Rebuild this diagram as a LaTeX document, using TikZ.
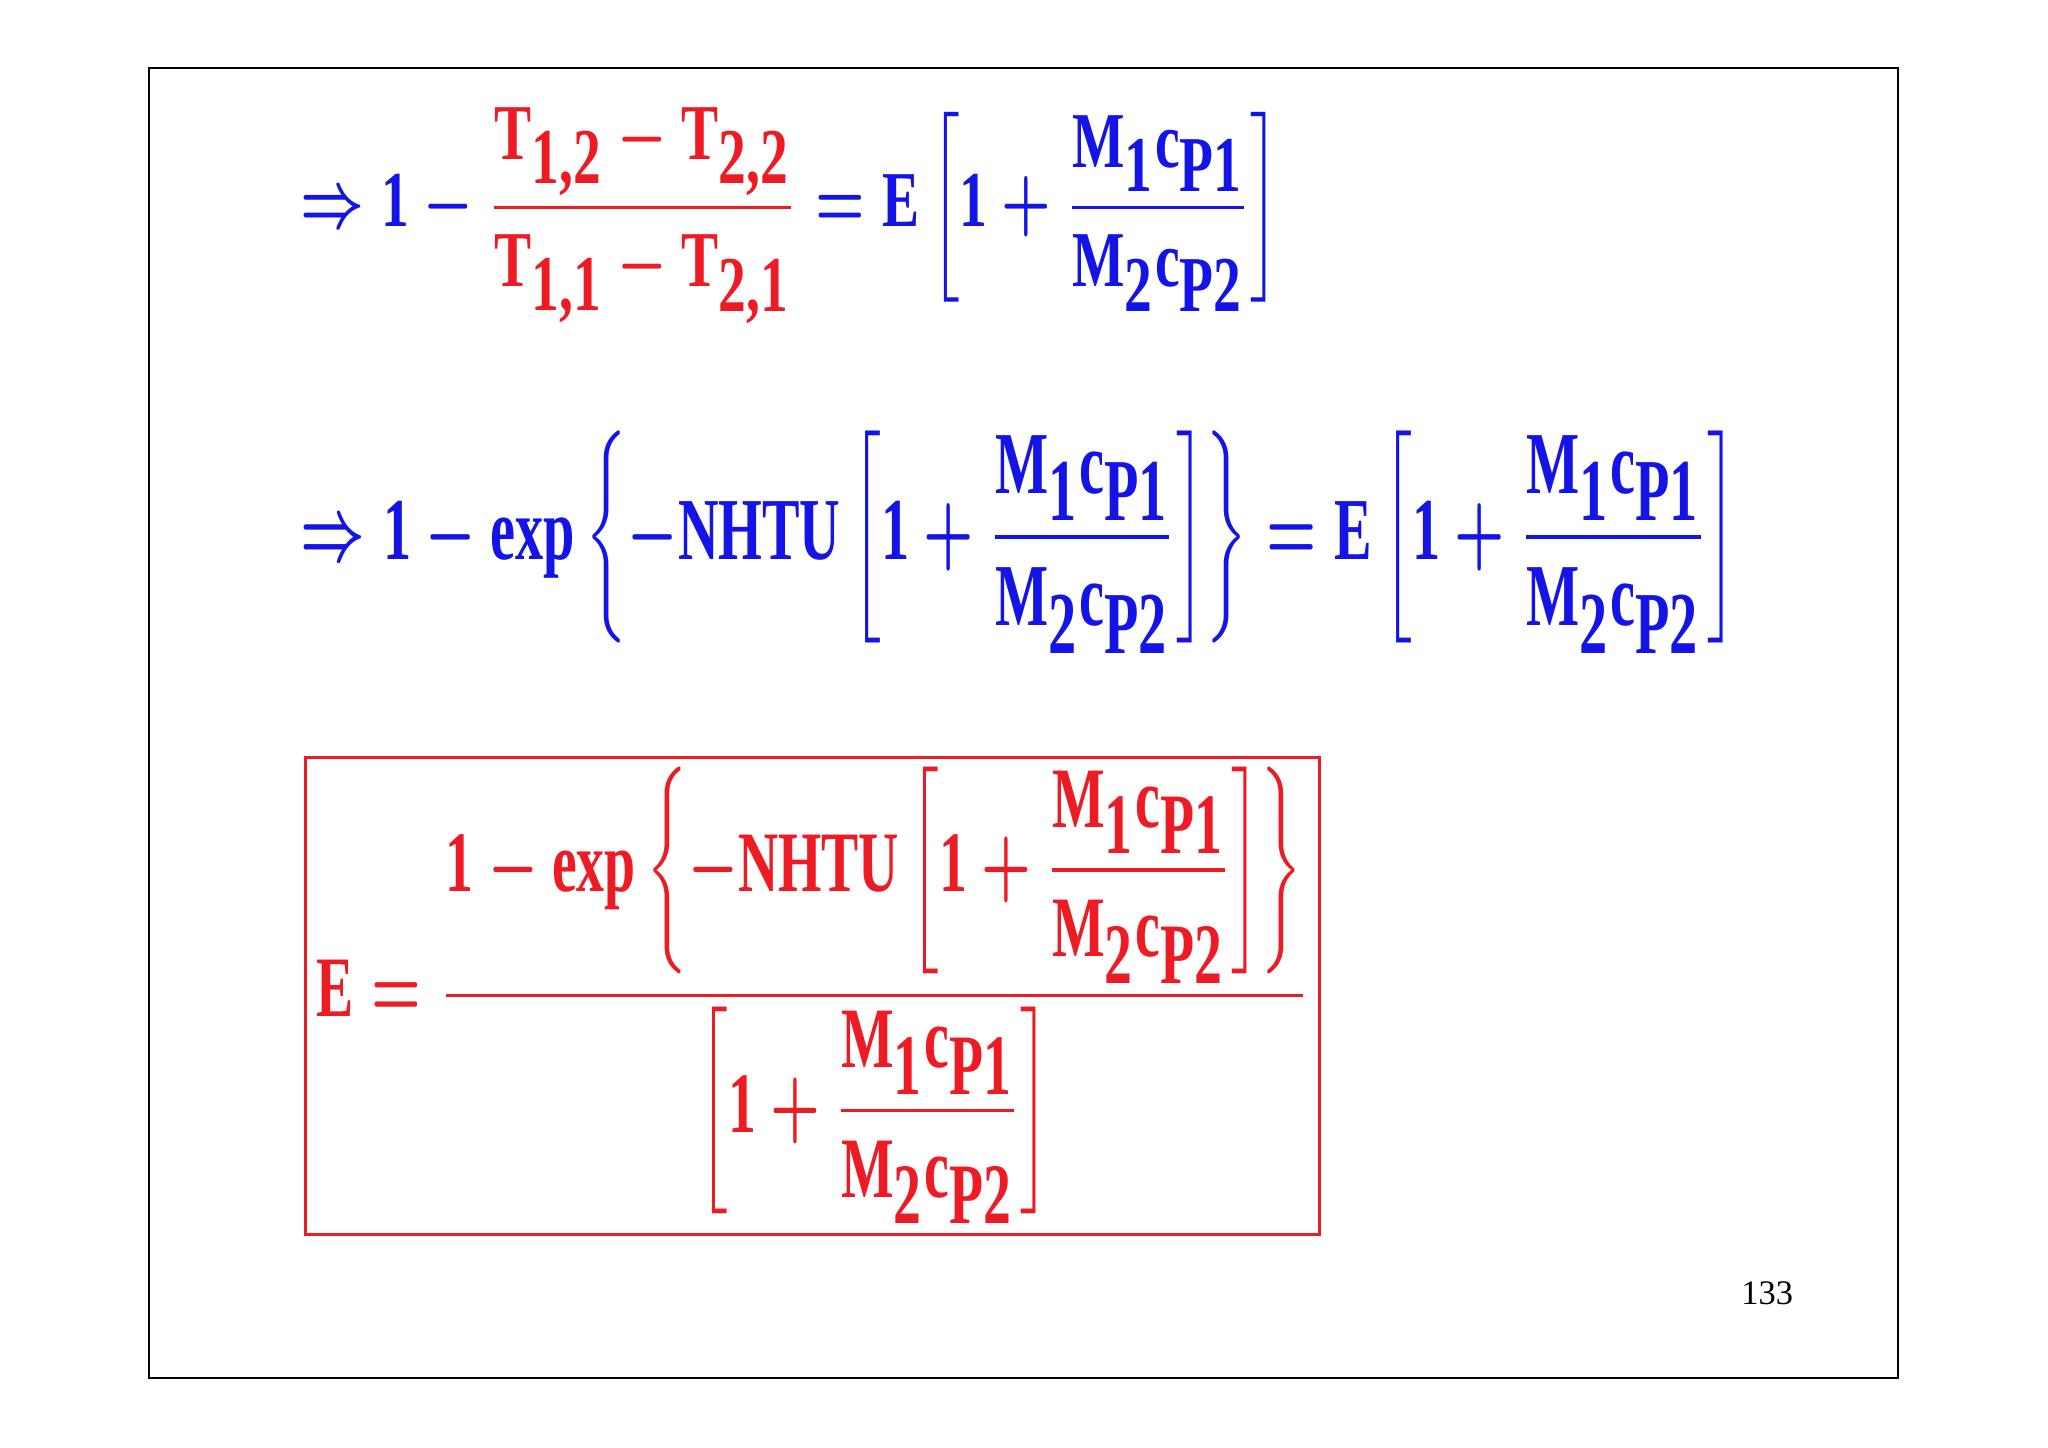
\documentclass[tikz,border=0pt]{standalone}
\usepackage{amsmath}
\usepackage{fontspec}
\setmainfont{Liberation Serif}
\definecolor{eqred}{RGB}{237,28,36}
\definecolor{eqblue}{RGB}{20,20,230}
\newcommand\tb[1]{\text{\bfseries #1}}
\newcommand\sbb[1]{_{\textstyle\tb{#1}}}
\newcommand\mfrac{\dfrac{\tb{M}\sbb{1}\tb{c}\sbb{P1}}{\tb{M}\sbb{2}\tb{c}\sbb{P2}}}
\begin{document}
\begin{tikzpicture}[eq/.style={inner sep=0pt}]
\useasboundingbox (0,0) rectangle (31.36,22.16);
\draw[line width=0.03cm] (2.28,21.12) rectangle (29.06,1.06);
\node[eq,text=eqblue] (e1) at (12.1,18.86) {\resizebox*{15cm}{3.3cm}{\boldmath$\Rightarrow \tb{1}-\color{eqred}\dfrac{\tb{T}\sbb{1,2}-\tb{T}\sbb{2,2}}{\tb{T}\sbb{1,1}-\tb{T}\sbb{2,1}}\color{eqblue}=\tb{E}\left[\tb{1}+\mfrac\right]$}};
\node[eq,text=eqblue] (e2) at (15.6,13.86) {\resizebox*{22cm}{3.4cm}{\boldmath$\Rightarrow \tb{1}-\tb{exp}\left\{-\tb{NHTU}\left[\tb{1}+\mfrac\right]\right\}=\tb{E}\left[\tb{1}+\mfrac\right]$}};
\draw[eqred,line width=0.04cm] (4.68,10.56) rectangle (20.2,3.26);
\node[eq,text=eqred] (e3) at (12.45,6.92) {\resizebox*{15.2cm}{7cm}{\boldmath$\tb{E}=\dfrac{\tb{1}-\tb{exp}\left\{-\tb{NHTU}\left[\tb{1}+\mfrac\right]\right\}}{\left[\tb{1}+\mfrac\right]}$}};
\node (pg) at (27.06,2.36) {\fontsize{15}{18}\selectfont 133};
\end{tikzpicture}
\end{document}
